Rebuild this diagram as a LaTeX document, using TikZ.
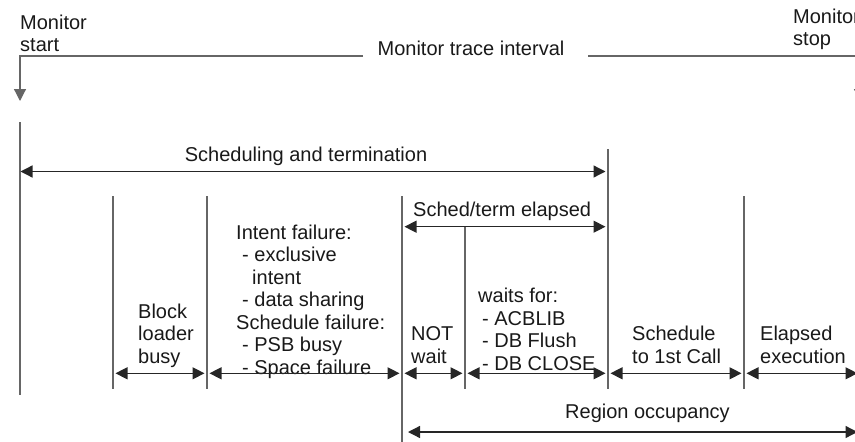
\documentclass[tikz,border=0pt]{standalone}
\usepackage{fontspec}
\setmainfont{Liberation Sans}
\usepackage{tikz}
\usetikzlibrary{arrows.meta}

\begin{document}
\begin{tikzpicture}[
  x=1pt, y=-1pt,
  >={Triangle[length=12pt,width=12pt]},
  txt/.style={font=\fontsize{20}{22.5}\selectfont, text=black!90, align=left, inner sep=0pt, anchor=base west},
  tick/.style={draw=black!60, line width=1.2pt},
  span/.style={draw=black!85, line width=1.3pt, <->, shorten <=2.5pt, shorten >=2.5pt},
  trace/.style={draw=black!60, line width=1.2pt, ->}
]
\useasboundingbox (0,0) rectangle (855,442);
\clip (0,0) rectangle (855,442);

% monitor trace interval
\node[txt] (mstart) at (20,51.5) {Monitor\\start};
\node[txt] (mstop) at (793,45.5) {Monitor\\stop};
\node[txt, anchor=base] (interval) at (471,55) {Monitor trace interval};
\coordinate (gapL) at (363,56);
\coordinate (gapR) at (588,56);
\coordinate (downL) at (20,101);
\coordinate (downR) at (860,101);
\draw[trace] (gapL) -| (downL);
\draw[trace] (gapR) -| (downR);

% time marks
\coordinate (t0) at (20,122);  \coordinate (b0) at (20,395);
\coordinate (t1) at (113,196); \coordinate (b1) at (113,389);
\coordinate (t2) at (207,196); \coordinate (b2) at (207,389);
\coordinate (t3) at (402,196); \coordinate (b3) at (402,442);
\coordinate (t4) at (465,227); \coordinate (b4) at (465,389);
\coordinate (t5) at (608,149); \coordinate (b5) at (608,389);
\coordinate (t6) at (744,196); \coordinate (b6) at (744,389);
\draw[tick] (t0) -- (b0);
\draw[tick] (t1) -- (b1);
\draw[tick] (t2) -- (b2);
\draw[tick] (t3) -- (b3);
\draw[tick] (t4) -- (b4);
\draw[tick] (t5) -- (b5);
\draw[tick] (t6) -- (b6);

% scheduling and termination
\node[txt, anchor=base] (sched) at (306,161) {Scheduling and termination};
\coordinate (s0) at (20,171.5);
\coordinate (s1) at (608,171.5);
\draw[span, shorten <=0.5pt] (s0) -- (s1);

\node[txt] (elapsed) at (413,216) {Sched/term elapsed};
\coordinate (e0) at (402,226.7);
\coordinate (e1) at (608,226.7);
\draw[span] (e0) -- (e1);

% phases
\node[txt] (loader) at (138,363) {Block\\loader\\busy};
\node[txt] (intent) at (236,374) {Intent failure:\\\hspace*{6pt}- exclusive\\\hspace*{16pt}intent\\\hspace*{6pt}- data sharing\\Schedule failure:\\\hspace*{6pt}- PSB busy\\\hspace*{6pt}- Space failure};
\node[txt] (notwait) at (411,363) {NOT\\wait};
\node[txt] (waits) at (478,370) {waits for:\\\hspace*{4pt}- ACBLIB\\\hspace*{4pt}- DB Flush\\\hspace*{4pt}- DB CLOSE};
\node[txt] (tocall) at (632,363) {Schedule\\to 1st Call};
\node[txt] (exec) at (760,363) {Elapsed\\execution};

\coordinate (r1) at (113,373.3);
\coordinate (r2) at (207,373.3);
\coordinate (r3) at (402,373.3);
\coordinate (r4) at (465,373.3);
\coordinate (r5) at (608,373.3);
\coordinate (r6) at (744,373.3);
\coordinate (r7) at (860,373.3);
\draw[span] (r1) -- (r2);
\draw[span] (r2) -- (r3);
\draw[span] (r3) -- (r4);
\draw[span] (r4) -- (r5);
\draw[span] (r5) -- (r6);
\draw[span] (r6) -- (r7);

% region occupancy
\node[txt] (occupancy) at (565,418) {Region occupancy};
\coordinate (o0) at (402,432);
\coordinate (o1) at (860,432);
\draw[span, shorten <=6pt] (o0) -- (o1);
\end{tikzpicture}
\end{document}
